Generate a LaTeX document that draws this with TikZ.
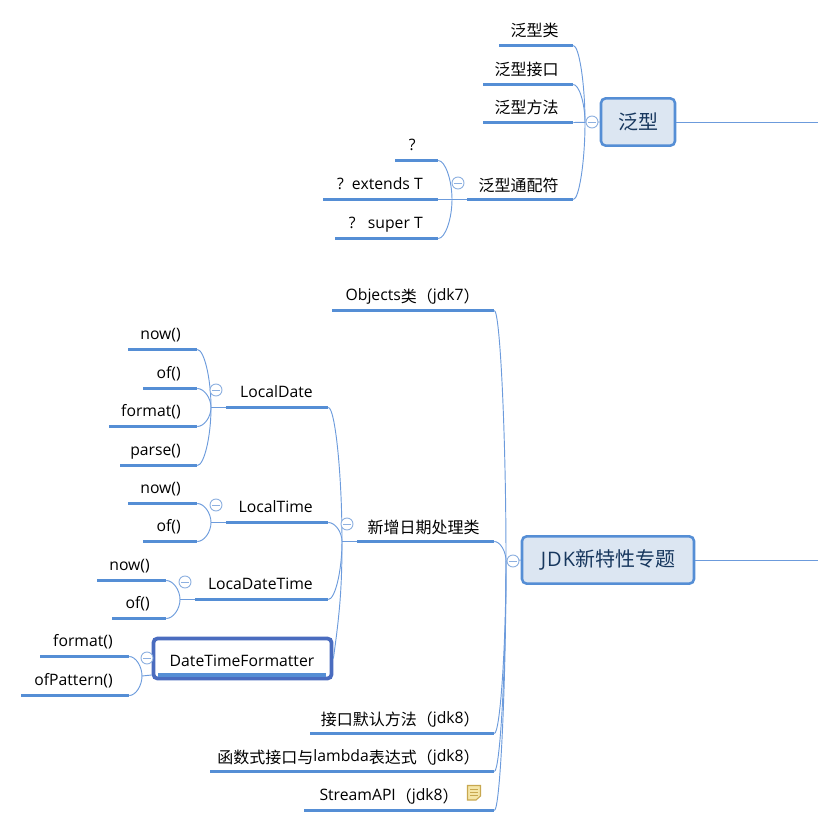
\documentclass[tikz,border=0pt]{standalone}
\usepackage{fontspec}
\usetikzlibrary{calc}
\setmainfont{Open Sans}
\newfontfamily\cjk{Noto Sans CJK SC}
\newcommand\zh[1]{{\cjk\fontsize{12pt}{14pt}\selectfont\raisebox{-1.5pt}{#1}}}
\definecolor{barblue}{HTML}{558ED5}
\definecolor{linkblue}{HTML}{6C9BDC}
\definecolor{rootfill}{HTML}{DCE6F2}
\definecolor{roottext}{HTML}{17375E}
\definecolor{selblue}{HTML}{4A6CBF}
\definecolor{circblue}{HTML}{8DB0E0}
\definecolor{notefill}{HTML}{F5E6A8}
\definecolor{noteline}{HTML}{C8A850}
\tikzset{
  x=0.75pt,y=-0.75pt,
  ubar/.style={fill=barblue,draw=none,inner sep=0pt,minimum height=2.6pt,rectangle},
  lbl/.style={inner sep=0pt,anchor=base east,font=\fontsize{11.8pt}{14pt}\selectfont,text=black},
  conn/.style={draw=linkblue,line width=0.7pt},
  rootbox/.style={draw=barblue,line width=1.9pt,fill=rootfill,rounded corners=3.5pt,inner sep=0pt,text=roottext,font=\fontsize{15pt}{17pt}\selectfont},
  selbox/.style={draw=selblue,line width=2.8pt,rounded corners=3pt,inner sep=0pt,fill=white},
  collapse/.style={circle,draw=circblue,fill=white,line width=0.7pt,inner sep=0pt,minimum size=9pt,
    path picture={\draw[circblue,line width=0.6pt] ([xshift=1.8pt]path picture bounding box.west)--([xshift=-1.8pt]path picture bounding box.east);}},
}
% name, left, right, y, text right edge, text
\newcommand\tbar[6]{%
  \node[ubar,minimum width={(#3-#2)*0.75pt}] (#1) at ({(#2+#3)/2},#4+0.5) {};
  \node[lbl] (#1t) at (#5,#4-10) {#6};
}
\newcommand\cgo[2]{\draw[conn] (#1.east) .. controls ($(#1.east)!0.5!(#2|-#1.east)$) and ($(#2)!0.5!(#2|-#1.east)$) .. (#2);}
\begin{document}
\begin{tikzpicture}
\useasboundingbox (0,0) rectangle (818,824);
% junctions
\coordinate (jA) at (585,122.5);
\coordinate (jA2) at (452,199.5);
\coordinate (jB) at (506,561);
\coordinate (jB2) at (342,541.5);
\coordinate (jD) at (211,407.5);
\coordinate (jT) at (211,522.5);
\coordinate (jL) at (180,599.5);
\coordinate (jF) at (142,676);
\coordinate (eA) at (818,122);
\coordinate (eB) at (818,560);
% group one
\tbar{g1}{499}{573}{45}{559}{\zh{泛型类}}
\tbar{g2}{483}{573}{84}{559}{\zh{泛型接口}}
\tbar{g3}{483}{573}{122}{559}{\zh{泛型方法}}
\tbar{g4}{467}{573}{199}{559}{\zh{泛型通配符}}
\tbar{q1}{395}{438}{160}{416}{?}
\tbar{q2}{323}{438}{199}{423}{?\ \ extends T}
\tbar{q3}{335}{438}{238}{423}{?\ \ \ super T}
% group two
\tbar{o1}{332}{494}{310}{480}{Objects\zh{类（}jdk7\zh{）}}
\tbar{o2}{357}{494}{541}{480}{\zh{新增日期处理类}}
\tbar{o3}{310}{494}{733}{480}{\zh{接口默认方法（}jdk8\zh{）}}
\tbar{o4}{210}{494}{771}{480}{\zh{函数式接口与}lambda\zh{表达式（}jdk8\zh{）}}
\tbar{o5}{304}{494}{810}{459}{StreamAPI\zh{（}jdk8\zh{）}}
\tbar{d}{226}{328}{407}{313}{LocalDate}
\tbar{t}{226}{328}{522}{313}{LocalTime}
\tbar{l}{195}{328}{599}{313}{LocaDateTime}
\tbar{d1}{128}{197}{349}{181}{now()}
\tbar{d2}{143}{197}{388}{181}{of()}
\tbar{d3}{109}{197}{426}{181}{format()}
\tbar{d4}{120}{197}{465}{181}{parse()}
\tbar{t1}{128}{197}{503}{181}{now()}
\tbar{t2}{143}{197}{541}{181}{of()}
\tbar{l1}{97}{166}{580}{150}{now()}
\tbar{l2}{112}{166}{618}{150}{of()}
\tbar{f1}{40}{129}{656}{113}{format()}
\tbar{f2}{21}{129}{695}{113}{ofPattern()}
% selected topic
\node[selbox,minimum width=133.5pt,minimum height=30pt] (fb) at (242.5,658.5) {};
\node[ubar,minimum width=126pt] (fbar) at (242,675) {};
\node[lbl,anchor=base] (ft) at (242,666) {DateTimeFormatter};
% roots
\node[rootbox,minimum width=55.5pt,minimum height=35.5pt] (ra) at (638,122) {{\cjk 泛型}};
\node[rootbox,minimum width=129pt,minimum height=35.5pt] (rb) at (608,560) {J\kern0.8pt D\kern0.8pt K{\cjk 新特性专题}};
% connectors
\draw[conn] (ra.east) -- (eA);
\draw[conn] (rb.east) -- (eB);
\draw[conn] (ra.west) -- (g3.east);
\cgo{g1}{jA}
\cgo{g2}{jA}
\cgo{g4}{jA}
\draw[conn] (g4.west) -- (q2.east);
\cgo{q1}{jA2}
\cgo{q3}{jA2}
\draw[conn] (rb.west) -- (jB);
\cgo{o1}{jB}
\cgo{o2}{jB}
\cgo{o3}{jB}
\cgo{o4}{jB}
\cgo{o5}{jB}
\draw[conn] (o2.west) -- (jB2);
\cgo{d}{jB2}
\cgo{t}{jB2}
\cgo{l}{jB2}
\draw[conn] (fb.east) to[out=82,in=-90] (jB2);
\draw[conn] (d.west) -- (jD);
\cgo{d1}{jD}
\cgo{d2}{jD}
\cgo{d3}{jD}
\cgo{d4}{jD}
\draw[conn] (t.west) -- (jT);
\cgo{t1}{jT}
\cgo{t2}{jT}
\draw[conn] (l.west) -- (jL);
\cgo{l1}{jL}
\cgo{l2}{jL}
\draw[conn] (fb.west|-fbar) -- (jF);
\cgo{f1}{jF}
\cgo{f2}{jF}
% collapse marks
\node[collapse] (c1) at (592,122) {};
\node[collapse] (c2) at (458,183) {};
\node[collapse] (c3) at (513,561) {};
\node[collapse] (c4) at (347,524) {};
\node[collapse] (c5) at (216,390) {};
\node[collapse] (c6) at (216,505) {};
\node[collapse] (c7) at (185,582) {};
\node[collapse] (c8) at (147,658) {};
% note icon
\filldraw[fill=notefill,draw=noteline,line width=0.8pt] (467.5,785.5) -- (480.5,785.5) -- (480.5,796) -- (476,800) -- (467.5,800) -- cycle;
\foreach \yy in {789,792,795}{\draw[noteline,line width=0.7pt] (470,\yy) -- (478,\yy);}
\end{tikzpicture}
\end{document}
